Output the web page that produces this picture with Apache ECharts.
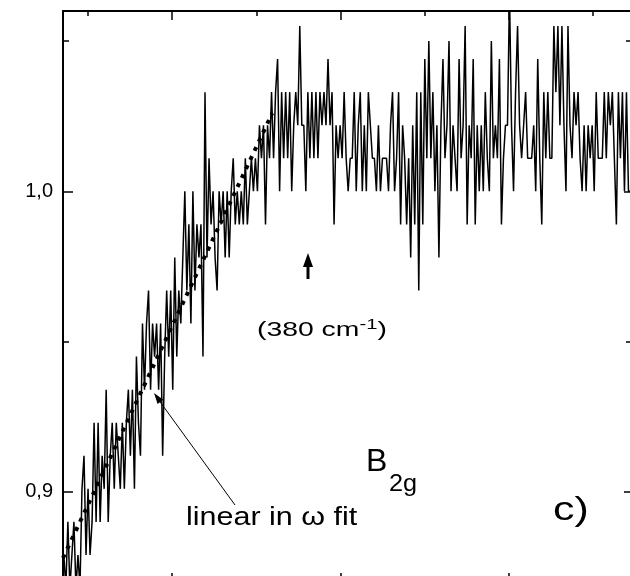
<!DOCTYPE html>
<html>
<head>
<meta charset="utf-8">
<title>B2g ratio</title>
<script src="https://cdn.jsdelivr.net/npm/echarts/dist/echarts.min.js"></script>
<style>
  html, body { margin: 0; padding: 0; background: #fff; }
  #chart { width: 630px; height: 576px; }
</style>
</head>
<body>
<div id="chart"></div>
<script>
// raman shift sampling (cm-1)
const xStart = 71
const xStep = 2.4

// measured ratio, one value per sample
const ratio = [
  0.879, 0.868, 0.890, 0.868, 0.879, 0.890, 0.868, 0.879, 0.868, 0.901,
  0.912, 0.879, 0.901, 0.879, 0.890, 0.923, 0.890, 0.923, 0.890, 0.912,
  0.901, 0.934, 0.890, 0.912, 0.923, 0.901, 0.923, 0.912, 0.901, 0.923,
  0.901, 0.923, 0.934, 0.912, 0.934, 0.901, 0.945, 0.923, 0.912, 0.956,
  0.934, 0.956, 0.967, 0.934, 0.956, 0.945, 0.956, 0.934, 0.956, 0.912,
  0.945, 0.967, 0.945, 0.967, 0.934, 0.978, 0.945, 0.967, 0.956, 0.978,
  1.000, 0.967, 0.989, 0.956, 1.000, 0.967, 0.989, 0.978, 0.989, 0.945,
  1.033, 0.978, 1.011, 0.989, 1.000, 0.978, 0.967, 1.000, 0.989, 1.000,
  0.978, 1.000, 0.978, 1.000, 1.011, 0.989, 1.000, 0.989, 1.000, 0.989,
  1.011, 0.989, 1.000, 1.011, 1.000, 1.011, 1.000, 1.022, 1.011, 1.022,
  0.989, 1.022, 1.011, 1.033, 1.011, 1.033, 1.044, 1.000, 1.033, 1.011,
  1.033, 1.011, 1.033, 1.000, 1.022, 1.033, 1.022, 1.055, 1.022, 1.022,
  1.000, 1.033, 1.011, 1.033, 1.011, 1.033, 1.011, 1.033, 1.022, 1.033,
  1.022, 1.044, 1.022, 1.033, 0.989, 1.022, 1.011, 1.022, 1.011, 1.033,
  1.011, 1.000, 1.011, 1.011, 1.033, 1.000, 1.022, 1.033, 1.000, 1.022,
  1.000, 1.033, 1.022, 1.011, 1.011, 1.000, 1.022, 1.000, 1.011, 1.011,
  1.011, 1.000, 1.022, 1.033, 1.000, 1.011, 1.033, 0.989, 1.022, 1.011,
  0.989, 1.011, 0.978, 1.022, 0.989, 1.033, 0.967, 1.033, 0.989, 1.044,
  1.011, 1.050, 1.011, 1.033, 1.000, 1.022, 0.978, 1.022, 1.044, 1.011,
  1.022, 1.050, 1.000, 1.022, 1.011, 1.000, 1.044, 1.011, 1.022, 1.055,
  0.989, 1.022, 1.011, 1.044, 0.989, 1.022, 1.000, 1.022, 1.000, 1.033,
  1.011, 1.000, 1.050, 1.011, 1.022, 1.011, 1.044, 0.989, 1.011, 1.022,
  1.022, 1.066, 1.022, 1.000, 1.033, 1.055, 1.022, 1.011, 1.022, 1.033,
  1.011, 1.011, 1.011, 1.022, 1.000, 1.044, 1.011, 0.989, 1.033, 1.011,
  1.033, 1.011, 1.011, 1.055, 1.033, 1.055, 1.022, 1.055, 1.022, 1.000,
  1.055, 1.022, 1.011, 1.033, 1.022, 1.033, 1.011, 1.000, 1.022, 1.000,
  1.022, 1.011, 1.022, 1.000, 1.033, 1.011, 1.011, 1.011, 1.033, 1.011,
  1.033, 1.022, 1.033, 1.011, 0.989, 1.033, 1.011, 1.033, 1.000, 1.033,
  1.000, 1.000
]

// linear in omega fit (end points)
const fitX = [70, 319]
const fitY = [0.878, 1.026]

// ticks
const xMajor = [200, 400, 600]
const xMinor = [100, 300, 500, 700]
const yMajor = [0.9, 1.0]
const yMinor = [0.95, 1.05]

const FONT = '"Liberation Sans", Arial, sans-serif'
const BLACK = '#000'

const spectrum = ratio.map((v, i) => [xStart + i * xStep, v])
const fit = fitX.map((x, i) => [x, fitY[i]])

function xAxisDef(position, ticks, len, showLine) {
  return {
    type: 'value', position: position, min: 70, max: 746,
    axisLine: { show: showLine, onZero: false, lineStyle: { color: BLACK, width: 2 } },
    axisTick: { show: true, inside: true, length: len, customValues: ticks, lineStyle: { color: BLACK, width: 1.5 } },
    axisLabel: { show: false },
    splitLine: { show: false }
  }
}

function yAxisDef(position, ticks, len, showLine, labels) {
  return {
    type: 'value', position: position, min: 0.87, max: 1.06,
    axisLine: { show: showLine, onZero: false, lineStyle: { color: BLACK, width: 2 } },
    axisTick: { show: true, inside: true, length: len, customValues: ticks, lineStyle: { color: BLACK, width: 1.5 } },
    axisLabel: labels ? {
      show: true, customValues: ticks, margin: 10, color: BLACK,
      fontSize: 20, fontFamily: FONT,
      formatter: v => v.toFixed(1).replace('.', ',')
    } : { show: false },
    splitLine: { show: false }
  }
}

const chart = echarts.init(document.getElementById('chart'))
chart.setOption({
  animation: false,
  backgroundColor: '#fff',
  grid: { left: 63, right: -1, top: 11, bottom: -6, containLabel: false, outerBoundsMode: 'none' },
  xAxis: [
    xAxisDef('bottom', xMajor, 9, true),
    xAxisDef('top', xMajor, 9, true),
    xAxisDef('top', xMinor, 5, false),
    xAxisDef('bottom', xMinor, 5, false)
  ],
  yAxis: [
    yAxisDef('left', yMajor, 10, true, true),
    yAxisDef('left', yMinor, 6, false, false),
    yAxisDef('right', yMajor, 7, true, false),
    yAxisDef('right', yMinor, 5, false, false)
  ],
  series: [
    {
      type: 'line', data: spectrum, xAxisIndex: 0, yAxisIndex: 0,
      symbol: 'none', clip: true,
      lineStyle: { color: BLACK, width: 1.5 }
    },
    {
      type: 'line', data: fit, xAxisIndex: 0, yAxisIndex: 0,
      symbol: 'none', clip: true,
      lineStyle: { color: BLACK, width: 4, type: [4, 6], cap: 'butt' }
    }
  ],
  graphic: [
    // arrow marking 380 cm-1
    { type: 'line', z: 10, shape: { x1: 308, y1: 279, x2: 308, y2: 264 }, style: { stroke: BLACK, lineWidth: 3 } },
    { type: 'polygon', z: 10, shape: { points: [[308, 253], [303, 267], [313, 267]] }, style: { fill: BLACK } },
    {
      type: 'group', x: 257, y: 0, scaleX: 1.35, z: 10,
      children: [
        { type: 'text', x: 0, y: 330, style: { text: '(380 cm', font: '21px ' + FONT, fill: BLACK, textVerticalAlign: 'middle' } },
        { type: 'text', x: 75.9, y: 325, style: { text: '-1', font: '15px ' + FONT, fill: BLACK, textVerticalAlign: 'middle' } },
        { type: 'text', x: 89.2, y: 330, style: { text: ')', font: '21px ' + FONT, fill: BLACK, textVerticalAlign: 'middle' } }
      ]
    },
    // pointer to the fit
    { type: 'line', z: 10, shape: { x1: 235, y1: 505, x2: 158, y2: 399 }, style: { stroke: BLACK, lineWidth: 1 } },
    { type: 'polygon', z: 10, shape: { points: [[154, 393], [163.3, 399.8], [157.6, 403.9]] }, style: { fill: BLACK } },
    { type: 'text', x: 186, y: 518, scaleX: 1.22, z: 10, style: { text: 'linear in ω fit', font: '25px ' + FONT, fill: BLACK, textVerticalAlign: 'middle' } },
    // symmetry label
    { type: 'text', x: 366, y: 462, z: 10, style: { text: 'B', font: '32px ' + FONT, fill: BLACK, textVerticalAlign: 'middle' } },
    { type: 'text', x: 389, y: 485, scaleX: 1.1, z: 10, style: { text: '2g', font: '23px ' + FONT, fill: BLACK, textVerticalAlign: 'middle' } },
    { type: 'text', x: 553, y: 511, scaleX: 1.3, z: 10, style: { text: 'c)', font: '33px ' + FONT, fill: BLACK, textVerticalAlign: 'middle' } }
  ]
})
</script>
</body>
</html>
